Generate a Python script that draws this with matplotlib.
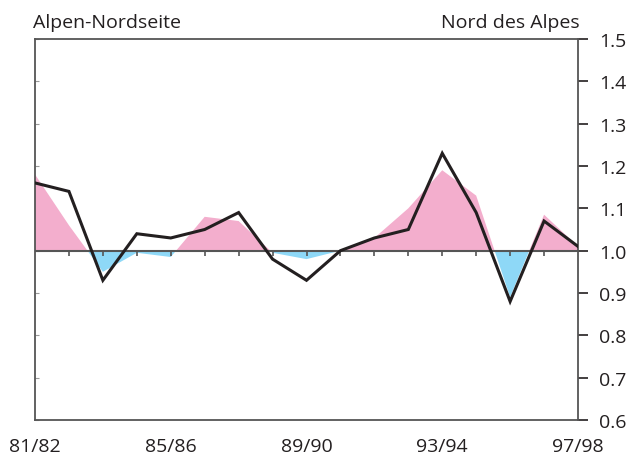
import numpy as np
import matplotlib
matplotlib.use("Agg")
import matplotlib.pyplot as plt

plt.rcParams['font.family'] = ['Open Sans', 'DejaVu Sans']

seasons = ["81/82", "82/83", "83/84", "84/85", "85/86", "86/87", "87/88", "88/89", "89/90",
           "90/91", "91/92", "92/93", "93/94", "94/95", "95/96", "96/97", "97/98"]
# black line
line_vals = [1.16, 1.14, 0.93, 1.04, 1.03, 1.05, 1.09, 0.98, 0.93,
             1.00, 1.03, 1.05, 1.23, 1.09, 0.88, 1.07, 1.01]
# shaded area (pink above 1, blue below)
area_vals = [1.18, 1.06, 0.95, 0.995, 0.985, 1.08, 1.07, 0.995, 0.98,
             1.00, 1.03, 1.10, 1.19, 1.13, 0.89, 1.085, 1.01]
label_seasons = ["81/82", "85/86", "89/90", "93/94", "97/98"]
yticks = [0.6, 0.7, 0.8, 0.9, 1.0, 1.1, 1.2, 1.3, 1.4, 1.5]

pink = "#f3aecd"
blue = "#8ed8f7"
dark = "#231f20"
spine_c = "#555555"
fs = 14

x = np.arange(len(seasons))
area = np.array(area_vals)

fig = plt.figure(figsize=(6.37, 4.64), dpi=100)
ax = fig.add_axes([35/637, 1 - 421/464, (578-35)/637, (421-40)/464])

ax.fill_between(x, area, 1.0, where=area >= 1.0, interpolate=True, color=pink, lw=0)
ax.fill_between(x, area, 1.0, where=area <= 1.0, interpolate=True, color=blue, lw=0)
ax.axhline(1.0, color=spine_c, lw=1.5, zorder=3)
ax.vlines(x[1:-1], 0.988, 1.0, color=spine_c, lw=1.2, zorder=3)
ax.plot(x, line_vals, color=dark, lw=2.2, zorder=4, solid_joinstyle='miter')

ax.set_xlim(0, len(seasons) - 1)
ax.set_ylim(0.6, 1.5)

for s in ax.spines.values():
    s.set_color(spine_c)
    s.set_linewidth(1.3)

ax.yaxis.tick_right()
ax.set_yticks(yticks, [f"{v:.1f}" for v in yticks])
ax.tick_params(axis='y', direction='out', length=7, width=1.2, color=dark,
               labelsize=fs, pad=8, labelcolor=dark)

sec = ax.secondary_yaxis('left')
sec.set_yticks(yticks)
sec.tick_params(direction='in', length=3, width=0.8, color="#999999", labelleft=False)
sec.spines['left'].set_visible(False)

ax.set_xticks([seasons.index(s) for s in label_seasons], label_seasons)
ax.tick_params(axis='x', length=0, pad=12, labelsize=fs, labelcolor=dark)

fig.text(33/637, 1 - 28/464, "Alpen-Nordseite", fontsize=fs, color=dark, ha='left', va='baseline')
fig.text(580/637, 1 - 28/464, "Nord des Alpes", fontsize=fs, color=dark, ha='right', va='baseline')

fig.savefig("out.png", dpi=100)
